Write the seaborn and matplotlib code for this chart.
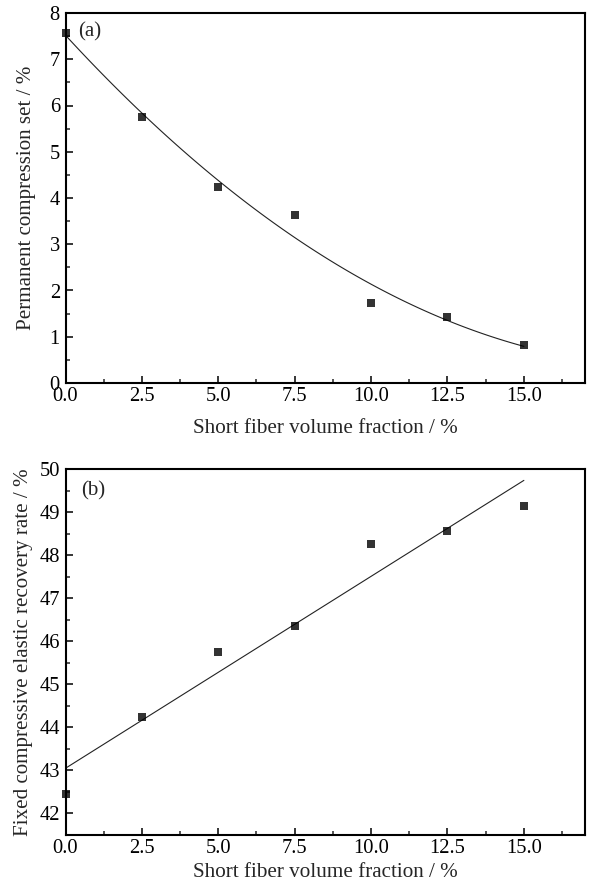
import numpy as np
import pandas as pd
import matplotlib
matplotlib.use("Agg")
import matplotlib.pyplot as plt
from matplotlib.ticker import MultipleLocator, FormatStrFormatter
import seaborn as sns

fiber = [0.0, 2.5, 5.0, 7.5, 10.0, 12.5, 15.0]
compression_set = [7.56, 5.75, 4.24, 3.64, 1.73, 1.42, 0.82]
recovery_rate = [42.45, 44.25, 45.75, 46.35, 48.25, 48.55, 49.15]

xlabel = "Short fiber volume fraction / %"
ylabel_a = "Permanent compression set / %"
ylabel_b = "Fixed compressive elastic recovery rate / %"

sns.set_style("white")
plt.rcParams['font.family'] = ['Liberation Serif', 'DejaVu Serif']

df = pd.DataFrame({"x": fiber, "a": compression_set, "b": recovery_rate})

fig = plt.figure(figsize=(5.95, 8.89), dpi=100)
W, H = 595.0, 889.0
ax1 = fig.add_axes([65.5 / W, 1 - 383 / H, 519.5 / W, 370 / H])
ax2 = fig.add_axes([65.5 / W, 1 - 835 / H, 519.5 / W, 366 / H])

tick_fs = 14.8
xl_fs = 15.2
yl_fs = 15.1

panels = [
    (ax1, "a", 2, ylabel_a, "(a)", (0.024, 0.948), (-0.056, 0.5), -0.097),
    (ax2, "b", 1, ylabel_b, "(b)", (0.031, 0.94), (-0.0635, 0.5), -0.076),
]
for ax, col, order, ylab, lab, labpos, ylpos, xly in panels:
    sns.regplot(data=df, x="x", y=col, order=order, ci=None, truncate=True, ax=ax,
                marker="s", scatter_kws=dict(s=38, color="black", zorder=3, linewidths=0),
                line_kws=dict(color="#222222", lw=0.8))
    for c in ax.collections:
        c.set_clip_on(False)
    ax.set_xlim(0, 17)
    ax.xaxis.set_major_locator(MultipleLocator(2.5))
    ax.xaxis.set_minor_locator(MultipleLocator(1.25))
    ax.yaxis.set_major_locator(MultipleLocator(1))
    ax.yaxis.set_minor_locator(MultipleLocator(0.5))
    ax.xaxis.set_major_formatter(FormatStrFormatter("%.1f"))
    ax.tick_params(axis="x", which="major", pad=3)
    ax.tick_params(axis="y", which="major", pad=4)
    ax.tick_params(which="major", direction="in", length=5, width=1.1, labelsize=tick_fs,
                   bottom=True, left=True, top=False, right=False, colors="black")
    ax.tick_params(which="minor", direction="in", length=3, width=1.1,
                   bottom=True, left=True, top=False, right=False)
    for s in ax.spines.values():
        s.set_linewidth(1.5)
        s.set_color("black")
    ax.set_xlabel(xlabel, fontsize=xl_fs)
    ax.set_ylabel(ylab, fontsize=yl_fs)
    ax.xaxis.set_label_coords(0.5, xly)
    ax.yaxis.set_label_coords(*ylpos)
    ax.text(labpos[0], labpos[1], lab, transform=ax.transAxes, fontsize=15,
            va="center", ha="left")

ax1.set_ylim(0, 8)
ax2.set_ylim(41.5, 50)

fig.savefig("out.png", dpi=100)
